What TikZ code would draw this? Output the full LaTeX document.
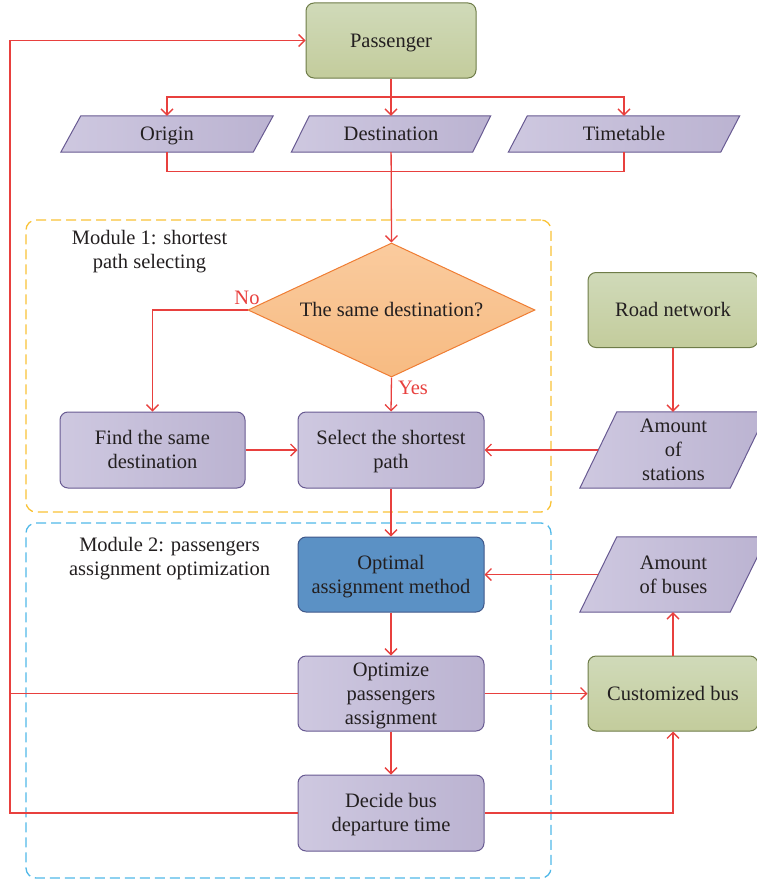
\documentclass[tikz,border=0pt]{standalone}
\usepackage{fontspec}
\setmainfont{Liberation Serif}
\usetikzlibrary{arrows.meta,shapes.geometric,calc,backgrounds}
\definecolor{lred}{RGB}{232,64,62}
\definecolor{txt}{RGB}{35,31,32}
\definecolor{pl}{RGB}{206,200,224}
\definecolor{pr}{RGB}{187,179,209}
\definecolor{pborder}{RGB}{104,90,146}
\definecolor{gt}{RGB}{208,218,185}
\definecolor{gb}{RGB}{195,204,156}
\definecolor{gborder}{RGB}{110,124,72}
\definecolor{bfill}{RGB}{91,145,197}
\definecolor{bborder}{RGB}{64,88,138}
\definecolor{ot}{RGB}{250,203,158}
\definecolor{ob}{RGB}{247,187,130}
\definecolor{oborder}{RGB}{239,125,51}
\definecolor{ydash}{RGB}{249,194,53}
\definecolor{cdash}{RGB}{80,184,232}
\newcommand\paragram[2]{%
  \path[parafill] ($(#1.south west)+(-#2,0)$) -- ($(#1.north west)+(#2,0)$)
    -- ($(#1.north east)+(#2,0)$) -- ($(#1.south east)+(-#2,0)$) -- cycle;}
\tikzset{
  base/.style={inner sep=0pt, align=center, font=\fontsize{20.5}{24}\selectfont, text=txt, text height=13.6pt, text depth=0pt},
  twoline/.style={text height=37.6pt},
  threeline/.style={text height=61.6pt},
  purplebox/.style={base, rectangle, rounded corners=8pt, draw=pborder, line width=1pt, left color=pl, right color=pr},
  greenbox/.style={base, rectangle, rounded corners=8pt, draw=gborder, line width=1pt, top color=gt, bottom color=gb},
  bluebox/.style={base, rectangle, rounded corners=8pt, draw=bborder, line width=1pt, fill=bfill},
  datanode/.style={base, rectangle, draw=none},
  decision/.style={base, diamond, aspect=2.14, draw=oborder, line width=1pt, top color=ot, bottom color=ob},
  parafill/.style={draw=pborder, line width=1pt, left color=pl, right color=pr},
  conn/.style={draw=lred, line width=1.3pt},
  flow/.style={conn, -{Straight Barb[length=6pt,width=12pt]}},
  modbox/.style={rectangle, inner sep=0pt, dash pattern=on 10pt off 5pt, line width=1.3pt, rounded corners=10pt},
  modlabel/.style={base, twoline},
  yn/.style={base, text=lred}
}
\begin{document}
\begin{tikzpicture}[x=1pt,y=-1pt]
\useasboundingbox (0,0) rectangle (756,883);
% modules
\node[modbox, draw=ydash, minimum width=525pt, minimum height=292pt] (m1) at (288.5,366) {};
\node[modbox, draw=cdash, minimum width=525pt, minimum height=355pt] (m2) at (288.5,700.5) {};
\node[modlabel] (m1l) at (149.5,250) {Module 1: shortest\\path selecting};
\node[modlabel] (m2l) at (169.5,557) {Module 2: passengers\\assignment optimization};
% nodes
\node[greenbox, minimum width=170pt, minimum height=75pt] (pass) at (391,40.5) {Passenger};
\node[datanode, minimum width=192pt, minimum height=36pt] (orig) at (167,134) {Origin};
\node[datanode, minimum width=181pt, minimum height=36pt] (dest) at (391,134) {Destination};
\node[datanode, minimum width=212pt, minimum height=36pt] (time) at (624,134) {Timetable};
\node[decision, minimum width=287pt, minimum height=134pt] (dia) at (391.5,310) {The same destination?};
\node[purplebox, twoline, minimum width=185pt, minimum height=76pt] (find) at (152.5,450) {Find the same\\destination};
\node[purplebox, twoline, minimum width=186pt, minimum height=76pt] (sel) at (391,450) {Select the shortest\\path};
\node[greenbox, minimum width=170pt, minimum height=75pt] (road) at (673,310) {Road network};
\node[datanode, threeline, minimum width=150pt, minimum height=76pt] (stat) at (673.5,450) {Amount\\of\\stations};
\node[bluebox, twoline, minimum width=186pt, minimum height=75pt] (opt) at (391,574.5) {Optimal\\assignment method};
\node[datanode, twoline, minimum width=150pt, minimum height=75pt] (buses) at (673.5,574.5) {Amount\\of buses};
\node[purplebox, threeline, minimum width=186pt, minimum height=75pt] (optz) at (391,693.5) {Optimize\\passengers\\assignment};
\node[greenbox, minimum width=170pt, minimum height=75pt] (cust) at (673,693.5) {Customized bus};
\node[purplebox, twoline, minimum width=186pt, minimum height=76pt] (dec) at (391,813) {Decide bus\\departure time};
% parallelograms behind text
\begin{scope}[on background layer]
\paragram{orig}{10}
\paragram{dest}{9}
\paragram{time}{9.5}
\paragram{stat}{18.5}
\paragram{buses}{18.5}
\end{scope}
% connectors
\coordinate (j1) at (391,97);
\coordinate (lft) at (10,813);
\draw[flow] (pass) -- (dest);
\draw[flow] (j1) -| (orig.north);
\draw[flow] (j1) -| (time.north);
\draw[conn] (orig.south) -- ++(0,19) -| (time.south);
\draw[flow] (dest) -- (dia.north);
\draw[flow] (dia.west) -| (find.north);
\draw[flow] (dia.south) -- (sel.north);
\node[yn] (no) at (247,298) {No};
\node[yn] (yes) at (413,388) {Yes};
\draw[flow] (find) -- (sel);
\draw[flow] (road.south) -- (road.south |- stat.north);
\draw[flow] (stat.west) -- (sel.east);
\draw[flow] (sel) -- (opt);
\draw[flow] (buses.west) -- (opt.east);
\draw[flow] (opt) -- (optz);
\draw[flow] (optz) -- (cust);
\draw[flow] (cust.north) -- (cust.north |- buses.south);
\draw[flow] (optz) -- (dec);
\draw[flow] (dec.east) -| (cust.south);
\draw[flow] (dec.west) -- (lft) |- (pass.west);
\draw[conn] (optz.west) -- (optz.west -| lft);
\end{tikzpicture}
\end{document}
